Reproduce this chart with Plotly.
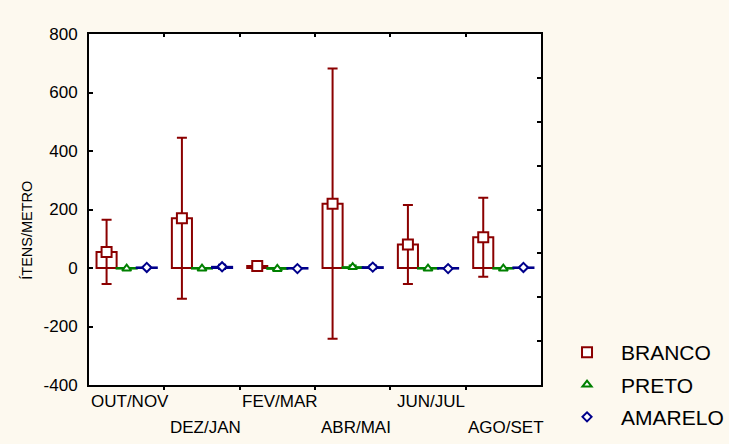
import plotly.graph_objects as go

# Periods (bi-monthly) and series statistics: mean and error (±)
periods = ["OUT/NOV", "DEZ/JAN", "FEV/MAR", "ABR/MAI", "JUN/JUL", "AGO/SET"]
series_names = ["BRANCO", "PRETO", "AMARELO"]

branco_mean = [55, 170, 7, 220, 80, 105]
branco_err = [110, 275, 14, 462, 135, 135]
preto_mean = [-2, -2, -3, 3, -2, -2]
preto_err = [3, 2, 2, 6, 2, 3]
amarelo_mean = [2, 4, -2, 3, -2, 2]
amarelo_err = [4, 8, 2, 6, 2, 4]

y_ticks = [-400, -200, 0, 200, 400, 600, 800]
y_ticktext = [str(v) for v in y_ticks]

means = [branco_mean, preto_mean, amarelo_mean]
errs = [branco_err, preto_err, amarelo_err]
colors = ["#8B0000", "#008000", "#00008B"]
symbols = ["square", "triangle-up", "diamond"]
msizes = [10, 8, 7]
capw = [5, 4, 4]
thick = [2, 1.5, 1.5]

FONT = "Liberation Sans, Arial, sans-serif"
BG = "#FDF9EF"

n_series = len(series_names)
bar_w = 0.8 / n_series
idx = list(range(len(periods)))

fig = go.Figure()

# Bars (outlined, hollow)
for k in range(n_series):
    xs = [i + (k - (n_series - 1) / 2) * bar_w for i in idx]
    fig.add_trace(go.Bar(
        x=xs, y=means[k], width=bar_w, base=0,
        marker=dict(color="rgba(0,0,0,0)", line=dict(color=colors[k], width=2)),
        showlegend=False, hoverinfo="skip",
    ))

# Means with error bars
for k in range(n_series):
    xs = [i + (k - (n_series - 1) / 2) * bar_w for i in idx]
    fig.add_trace(go.Scatter(
        x=xs, y=means[k], mode="markers", name=series_names[k],
        legendgroup=series_names[k],
        marker=dict(symbol=symbols[k], size=msizes[k], color="white",
                    line=dict(color=colors[k], width=2)),
        error_y=dict(type="data", array=errs[k], visible=True,
                     color=colors[k], thickness=thick[k], width=capw[k]),
    ))

# Category labels, alternating between two rows
for i, p in enumerate(periods):
    fig.add_annotation(
        x=i, y=0, xref="x", yref="paper", text=p, showarrow=False,
        xanchor="center", yanchor="top", xshift=3,
        yshift=-5 if i % 2 == 0 else -31,
        font=dict(family=FONT, size=17, color="black"),
    )

# Y-axis title
fig.add_annotation(
    x=-0.139, y=0.44, xref="paper", yref="paper", text="ÍTENS/METRO",
    textangle=-90, showarrow=False, xanchor="center", yanchor="middle",
    font=dict(family=FONT, size=14.5, color="black"),
)

boundaries = [i + 0.5 for i in idx[:-1]]
x_range = [-0.5, len(periods) - 0.5]

fig.update_layout(
    width=729, height=444,
    margin=dict(l=89, r=188, t=34, b=59, autoexpand=False),
    paper_bgcolor=BG, plot_bgcolor="white",
    barmode="overlay",
    showlegend=True,
    legend=dict(
        xref="container", yref="container",
        x=0.7586, y=0.252, xanchor="left", yanchor="top",
        font=dict(family=FONT, size=21, color="black"),
        bgcolor="rgba(0,0,0,0)", tracegroupgap=2, traceorder="grouped",
        itemwidth=58,
    ),
    xaxis=dict(
        range=x_range, tickmode="array", tickvals=boundaries,
        showticklabels=False, ticks="outside", ticklen=3, tickwidth=1.5,
        tickcolor="black", showline=True, linecolor="black", linewidth=2,
        showgrid=False, zeroline=False,
    ),
    xaxis2=dict(
        range=x_range, overlaying="x", side="top", tickmode="array",
        tickvals=boundaries, showticklabels=False, ticks="inside",
        ticklen=3, tickwidth=1.5, tickcolor="black", showline=True,
        linecolor="black", linewidth=2, showgrid=False, zeroline=False,
    ),
    yaxis=dict(
        range=[-400, 800], tickmode="array", tickvals=y_ticks,
        ticktext=y_ticktext,
        ticks="inside", ticklen=4, tickwidth=1.5, tickcolor="black",
        showline=True, linecolor="black", linewidth=2, showgrid=False,
        zeroline=False, ticklabelstandoff=6,
        tickfont=dict(family=FONT, size=17, color="black"),
    ),
    yaxis2=dict(
        range=[0, 8], overlaying="y", side="right", dtick=1,
        showticklabels=False, ticks="inside", ticklen=4, tickwidth=1.5,
        tickcolor="black", showline=True, linecolor="black", linewidth=2,
        showgrid=False, zeroline=False,
    ),
)

# Invisible traces to activate the mirrored frame axes
fig.add_trace(go.Scatter(x=[None], y=[None], xaxis="x2", yaxis="y2",
                         showlegend=False, hoverinfo="skip"))

fig.write_html("out.html")
